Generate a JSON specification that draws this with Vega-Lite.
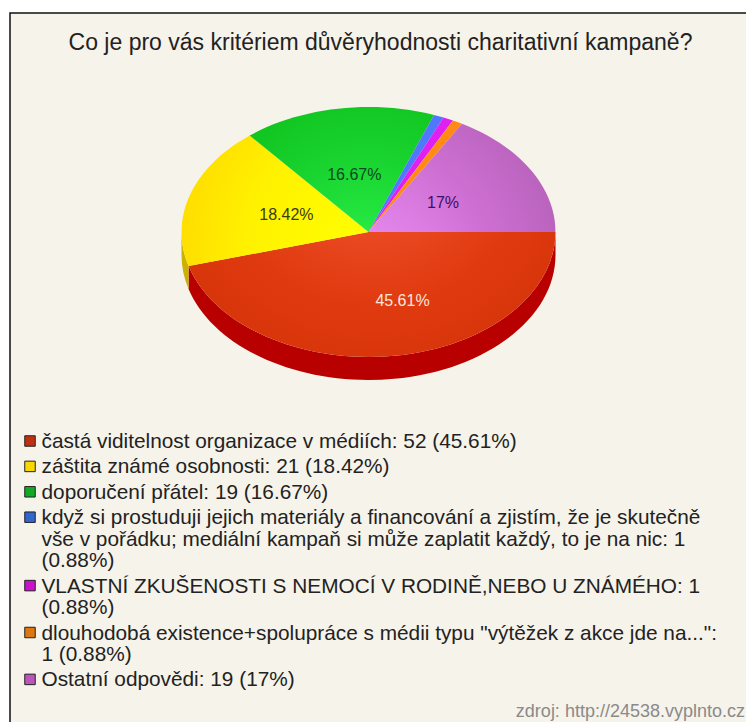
{
  "$schema": "https://vega.github.io/schema/vega-lite/v6.json",
  "width": 746,
  "height": 722,
  "padding": 0,
  "autosize": {"type": "none"},
  "background": "#ffffff",
  "config": {"view": {"stroke": null}},
  "datasets": {
    "slices": [
      {"id": 0, "answer": "častá viditelnost organizace v médiích", "count": 52, "share": "45.61%"},
      {"id": 1, "answer": "záštita známé osobnosti", "count": 21, "share": "18.42%"},
      {"id": 2, "answer": "doporučení přátel", "count": 19, "share": "16.67%"},
      {"id": 3, "answer": "když si prostuduji jejich materiály a financování a zjistím, že je skutečně vše v pořádku; mediální kampaň si může zaplatit každý, to je na nic", "count": 1, "share": "0.88%"},
      {"id": 4, "answer": "VLASTNÍ ZKUŠENOSTI S NEMOCÍ V RODINĚ,NEBO U ZNÁMÉHO", "count": 1, "share": "0.88%"},
      {"id": 5, "answer": "dlouhodobá existence+spolupráce s médii typu \"výtěžek z akce jde na...\"", "count": 1, "share": "0.88%"},
      {"id": 6, "answer": "Ostatní odpovědi", "count": 19, "share": "17%"}
    ],
    "legendLines": [
      {"entry": 0, "wrap": 0, "first": true, "line": "častá viditelnost organizace v médiích: 52 (45.61%)"},
      {"entry": 1, "wrap": 0, "first": true, "line": "záštita známé osobnosti: 21 (18.42%)"},
      {"entry": 2, "wrap": 0, "first": true, "line": "doporučení přátel: 19 (16.67%)"},
      {"entry": 3, "wrap": 0, "first": true, "line": "když si prostuduji jejich materiály a financování a zjistím, že je skutečně"},
      {"entry": 3, "wrap": 1, "first": false, "line": "vše v pořádku; mediální kampaň si může zaplatit každý, to je na nic: 1"},
      {"entry": 3, "wrap": 2, "first": false, "line": "(0.88%)"},
      {"entry": 4, "wrap": 2, "first": true, "line": "VLASTNÍ ZKUŠENOSTI S NEMOCÍ V RODINĚ,NEBO U ZNÁMÉHO: 1"},
      {"entry": 4, "wrap": 3, "first": false, "line": "(0.88%)"},
      {"entry": 5, "wrap": 3, "first": true, "line": "dlouhodobá existence+spolupráce s médii typu \"výtěžek z akce jde na...\":"},
      {"entry": 5, "wrap": 4, "first": false, "line": "1 (0.88%)"},
      {"entry": 6, "wrap": 4, "first": true, "line": "Ostatní odpovědi: 19 (17%)"}
    ]
  },
  "encoding": {
    "x": {"field": "px", "type": "quantitative", "axis": null, "scale": {"domain": [-368.5, 377.5], "nice": false, "zero": false}},
    "y": {"field": "py", "type": "quantitative", "axis": null, "scale": {"domain": [-232, 490], "reverse": true, "nice": false, "zero": false}}
  },
  "layer": [
    {
      "data": {"values": [{"part": "panel"}]},
      "transform": [
        {"calculate": "-358.5", "as": "px"},
        {"calculate": "400", "as": "px2"},
        {"calculate": "-219", "as": "py"},
        {"calculate": "520", "as": "py2"}
      ],
      "mark": {"type": "rect", "fill": "#f6f3ea", "stroke": "#111111", "strokeWidth": 1.5},
      "encoding": {"x2": {"field": "px2"}, "y2": {"field": "py2"}}
    },
    {
      "data": {"values": [{"title": "Co je pro vás kritériem důvěryhodnosti charitativní kampaně?"}]},
      "transform": [
        {"calculate": "12", "as": "px"},
        {"calculate": "-189", "as": "py"}
      ],
      "mark": {"type": "text", "font": "Liberation Sans", "fontSize": 23, "color": "#222222", "align": "center", "baseline": "middle"},
      "encoding": {"text": {"field": "title"}}
    },
    {
      "data": {"name": "slices"},
      "transform": [
        {"joinaggregate": [{"op": "sum", "field": "count", "as": "total"}]},
        {"window": [{"op": "sum", "field": "count", "as": "cum"}], "sort": [{"field": "id", "order": "ascending"}]},
        {"calculate": "2 * PI * (datum.cum - datum.count) / datum.total", "as": "a0"},
        {"calculate": "2 * PI * datum.cum / datum.total", "as": "a1"},
        {"calculate": "round(18700 * cos(datum.a0)) / 100", "as": "x0"},
        {"calculate": "round(12500 * sin(datum.a0)) / 100", "as": "y0"},
        {"calculate": "round(18700 * cos(datum.a1)) / 100", "as": "x1"},
        {"calculate": "round(12500 * sin(datum.a1)) / 100", "as": "y1"},
        {"calculate": "round(18700 * cos(min(datum.a1, PI))) / 100", "as": "xb"},
        {"calculate": "round(12500 * sin(min(datum.a1, PI))) / 100", "as": "yb"},
        {"calculate": "0", "as": "px"},
        {"calculate": "0", "as": "py"},
        {"calculate": "'M0 0L' + datum.x0 + ' ' + datum.y0 + 'A187 125 0 0 1 ' + datum.x1 + ' ' + datum.y1 + 'Z'", "as": "topPath"},
        {"calculate": "'M' + datum.x0 + ' ' + datum.y0 + 'A187 125 0 0 1 ' + datum.xb + ' ' + datum.yb + 'L' + datum.xb + ' ' + (datum.yb + 23) + 'A187 125 0 0 0 ' + datum.x0 + ' ' + (datum.y0 + 23) + 'Z'", "as": "sidePath"}
      ],
      "layer": [
        {
          "transform": [{"filter": "datum.a0 < PI"}],
          "mark": {"type": "point", "filled": true, "size": 4, "opacity": 1, "strokeWidth": 0},
          "encoding": {
            "shape": {"field": "sidePath", "type": "nominal", "scale": null},
            "fill": {"condition": {"test": "datum.id == 1", "value": "#c9b300"}, "value": "#b80000"}
          }
        },
        {
          "mark": {"type": "point", "filled": true, "size": 4, "opacity": 1, "strokeWidth": 0},
          "encoding": {
            "shape": {"field": "topPath", "type": "nominal", "scale": null},
            "fill": {
              "condition": [
                {"test": "datum.id == 0", "value": {"gradient": "radial", "x1": 0.5, "y1": 0.1, "x2": 0.5, "y2": 0.1, "r1": 0, "r2": 0.95, "stops": [{"offset": 0, "color": "#f55a35"}, {"offset": 0.45, "color": "#e03a10"}, {"offset": 1, "color": "#c92b00"}]}},
                {"test": "datum.id == 1", "value": {"gradient": "radial", "x1": 1, "y1": 0.74, "x2": 1, "y2": 0.74, "r1": 0, "r2": 1.05, "stops": [{"offset": 0, "color": "#ffff00"}, {"offset": 0.6, "color": "#fff200"}, {"offset": 1, "color": "#ffdc00"}]}},
                {"test": "datum.id == 2", "value": {"gradient": "radial", "x1": 0.64, "y1": 1, "x2": 0.64, "y2": 1, "r1": 0, "r2": 1, "stops": [{"offset": 0, "color": "#2bf24a"}, {"offset": 0.6, "color": "#18d22e"}, {"offset": 1, "color": "#10c21d"}]}},
                {"test": "datum.id == 3", "value": "#4f78ff"},
                {"test": "datum.id == 4", "value": "#e020f0"},
                {"test": "datum.id == 5", "value": "#ff8a14"}
              ],
              "value": {"gradient": "radial", "x1": 0, "y1": 1, "x2": 0, "y2": 1, "r1": 0, "r2": 1.05, "stops": [{"offset": 0, "color": "#ec90f6"}, {"offset": 0.6, "color": "#cf70d4"}, {"offset": 1, "color": "#b963bd"}]}
            }
          }
        },
        {
          "transform": [
            {"filter": "datum.count > 1"},
            {"calculate": "(datum.a0 + datum.a1) / 2", "as": "mid"},
            {"calculate": "datum.id == 0 ? 34 : 187 * 0.46 * cos(datum.mid)", "as": "px"},
            {"calculate": "125 * (datum.id == 0 ? 0.56 : 0.46) * sin(datum.mid)", "as": "py"}
          ],
          "mark": {"type": "text", "font": "Liberation Sans", "fontSize": 16, "align": "center", "baseline": "middle"},
          "encoding": {
            "text": {"field": "share"},
            "color": {
              "condition": [
                {"test": "datum.id == 0", "value": "#fbe6dc"},
                {"test": "datum.id == 1", "value": "#3c3a10"},
                {"test": "datum.id == 2", "value": "#0d4a22"}
              ],
              "value": "#3b1067"
            }
          }
        }
      ]
    },
    {
      "data": {"name": "legendLines"},
      "transform": [
        {"calculate": "-327", "as": "px"},
        {"calculate": "210 + 25.4 * datum.entry + 21.5 * datum.wrap", "as": "py"}
      ],
      "mark": {"type": "text", "font": "Liberation Sans", "fontSize": 20.8, "color": "#222222", "align": "left", "baseline": "middle"},
      "encoding": {"text": {"field": "line"}}
    },
    {
      "data": {"name": "legendLines"},
      "transform": [
        {"filter": "datum.first"},
        {"calculate": "-338.5", "as": "px"},
        {"calculate": "209 + 25.4 * datum.entry + 21.5 * datum.wrap", "as": "py"}
      ],
      "mark": {"type": "point", "shape": "square", "filled": true, "size": 110, "opacity": 1, "stroke": "#222222", "strokeWidth": 1},
      "encoding": {
        "fill": {
          "field": "entry",
          "type": "nominal",
          "legend": null,
          "scale": {"domain": [0, 1, 2, 3, 4, 5, 6], "range": ["#c03010", "#f8d800", "#11aa22", "#3366cc", "#cc11cc", "#dd7711", "#bb55bb"]}
        }
      }
    },
    {
      "data": {"values": [{"source": "zdroj: http://24538.vyplnto.cz"}]},
      "transform": [
        {"calculate": "376.5", "as": "px"},
        {"calculate": "480", "as": "py"}
      ],
      "mark": {"type": "text", "font": "Liberation Sans", "fontSize": 18, "color": "#8a8a8a", "align": "right", "baseline": "middle"},
      "encoding": {"text": {"field": "source"}}
    }
  ]
}
